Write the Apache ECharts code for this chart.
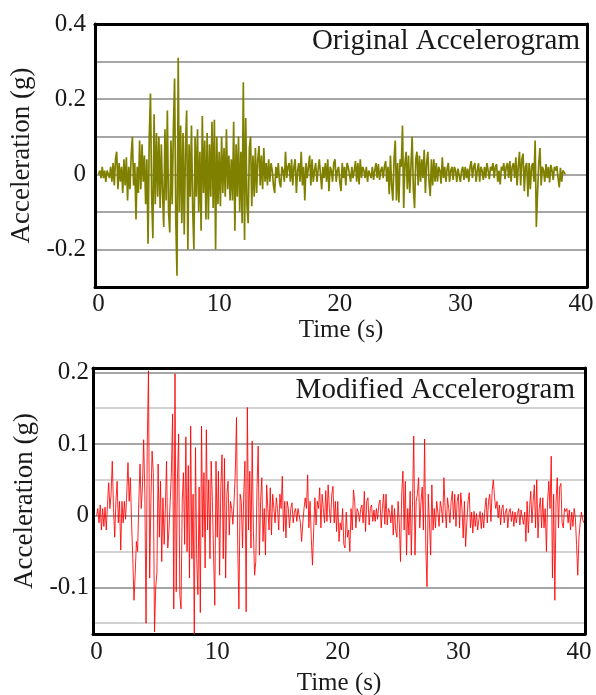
<!DOCTYPE html>
<html><head><meta charset="utf-8">
<script src="https://cdn.jsdelivr.net/npm/echarts@6/dist/echarts.min.js"></script>
<style>html,body{margin:0;padding:0;background:#fff}#c{width:596px;height:695px}</style>
</head><body><div id="c"></div>
<script>
// ---- data ----
const SAMPLE_STEP = 0.1;   // seconds between samples
const START_TIME = 0;      // seconds
const timeTicks = [0, 10, 20, 30, 40];
const originalTicks = [-0.2, 0, 0.2, 0.4];
const originalGrid = [-0.3, -0.2, -0.1, 0, 0.1, 0.2, 0.3, 0.4];
const modifiedTicks = [-0.1, 0, 0.1, 0.2];
const modifiedMinorGrid = [-0.15, -0.05, 0.05, 0.15];
const titles = ['Original Accelerogram', 'Modified Accelerogram'];
const xName = 'Time (s)';
const yName = 'Acceleration (g)';

// Original accelerogram, g (one value per sample)
const originalAccel = [
0,.01,-.01,.02,-.01,.01,-.02,.01,0,-.01,
.02,-.02,.03,-.03,.04,.06,-.04,.03,-.02,.02,
-.05,.04,-.03,.045,-.07,.02,-.04,.05,.1,-.03,
.03,-.12,.02,-.05,.09,-.04,.08,-.02,.05,-.08,
.04,-.185,.1,.215,-.06,-.17,.16,-.08,.11,-.06,
.1,-.09,.08,-.05,-.14,.12,-.07,.17,-.1,-.155,
.09,-.08,.12,.255,-.12,-.27,.31,-.1,.13,-.13,
.11,-.16,.07,.17,-.2,.08,-.06,.13,-.09,-.2,
.1,-.06,.12,-.1,.06,-.15,.155,-.05,.09,-.12,
.11,-.12,.08,-.06,.14,-.09,.145,-.2,.1,-.08,
.06,-.085,.1,-.05,.07,-.06,.12,-.04,.05,-.07,
.04,-.07,.14,-.15,.08,-.06,.1,-.1,.06,-.13,
.245,-.175,.15,-.08,-.13,.07,.1,-.085,.05,-.06,
.07,-.05,.04,.075,-.03,.05,-.04,.07,-.02,.03,
-.03,.04,-.02,.03,.01,-.03,-.05,.02,-.01,.03,
-.02,-.035,.02,.01,-.02,.06,-.01,.02,.03,-.02,
.04,-.03,.02,.04,-.05,.01,.03,-.02,.06,-.03,
.02,-.07,.03,-.01,.02,.05,-.03,.04,-.02,.01,
.03,-.02,.01,.04,.045,-.04,.02,-.01,.03,-.02,
.04,-.045,.02,.01,-.02,.03,.04,-.02,.01,.02,
-.02,-.045,.03,-.01,.02,-.03,.03,.02,.025,-.02,
.02,-.01,.01,.035,-.02,.03,-.027,.04,-.01,.02,
.01,-.01,.02,-.02,.01,.015,-.01,.02,-.015,.01,
.03,-.01,.027,-.015,.01,.02,-.01,.02,.035,-.02,
.02,-.053,.05,-.03,-.07,.04,.09,-.07,.03,-.075,
.04,.02,.13,-.09,.03,.06,-.04,.05,-.05,.02,
.1,-.04,-.09,.04,.06,-.03,.05,-.02,.04,-.01,
.065,-.05,.03,.06,-.02,-.058,.04,-.03,.04,-.02,
.03,-.02,.02,.01,-.025,.045,-.01,.02,-.02,.015,
.03,-.02,.01,.02,-.015,.02,.01,-.02,.015,.02,
-.02,.01,.02,-.015,.02,-.01,.015,-.02,.02,.035,
-.01,.02,.03,-.02,.01,.03,-.02,.02,.01,-.015,
.02,-.01,.03,.01,-.013,.02,.01,.03,-.01,.02,
.027,-.02,.01,-.027,.02,.01,.03,-.013,.02,.03,
-.01,.035,-.02,.02,.03,-.01,.045,-.03,.02,.06,
-.03,.04,.055,-.045,.02,.03,-.06,.03,-.04,.02,
.03,-.02,.09,-.14,-.05,.03,.07,-.03,.02,.01,
-.02,.027,-.01,.02,-.022,.025,.01,-.015,.02,.01,
.022,-.01,-.035,.017,-.02,.01,.005,0
];

// Modified accelerogram, g (one value per sample)
const modifiedAccel = [
0,.01,-.01,.015,-.02,.01,-.015,.012,-.02,.015,
.046,.01,.03,.076,.01,-.03,.02,.048,-.01,.02,
-.048,.02,-.01,.02,-.005,.03,.074,.02,.053,-.01,
-.06,-.118,-.08,-.036,-.05,.02,.072,.01,.04,.106,
.03,-.15,.1,.202,-.087,.02,.09,.06,-.162,-.1,
-.08,.072,-.03,.048,-.064,.025,-.04,.01,.076,-.045,
-.02,.02,.06,.142,-.13,.198,-.106,.05,.114,-.11,
-.13,.02,.06,-.04,.11,-.05,.07,-.087,.125,-.06,
.03,-.165,.095,-.06,-.11,.04,-.135,.125,-.03,.06,
-.073,.12,-.02,.05,-.06,.076,.02,-.055,-.125,.076,
-.03,.062,-.083,.04,.085,-.06,.08,-.087,.03,.048,
-.027,.02,.01,-.012,.02,.06,.137,-.04,-.13,.03,
.02,-.045,.03,.076,-.134,.151,-.02,.062,-.045,.104,
-.02,-.083,-.064,.039,.097,-.055,.02,.053,-.036,.01,
-.055,.043,.01,-.02,.039,-.027,.03,.01,-.01,.025,
.01,-.02,.03,.01,.055,-.022,.02,-.031,.02,.01,
-.017,.01,.018,-.01,.005,.01,-.008,.01,.012,-.01,
-.036,-.01,.01,.025,.01,.057,-.017,.02,-.03,-.069,
-.02,.025,-.013,.02,.01,.039,-.017,.03,.01,-.01,
.035,-.008,.043,.01,-.01,.03,.041,-.01,.02,-.022,
.02,-.036,-.01,-.02,.01,-.04,-.045,.005,-.03,-.02,
-.05,.01,-.02,.036,.02,-.017,.01,.005,-.008,.01,
.015,-.01,.034,-.022,.02,.025,-.013,.01,.015,-.008,
.008,-.008,.01,-.005,.015,.022,-.017,.01,.03,-.012,
.03,-.013,.01,.005,-.01,.015,-.027,.01,-.02,-.03,
.02,-.01,-.064,.03,.062,-.02,.048,-.055,.01,-.027,
.034,-.055,.02,.111,-.055,.02,.03,.053,-.017,.02,
.04,-.02,.107,-.045,-.099,.03,-.01,-.055,.043,-.02,
.01,-.017,.02,.005,-.015,.02,.01,-.01,.053,.01,
-.017,.025,.01,-.01,.02,.034,-.005,.03,-.015,.02,
.03,-.017,.032,.01,-.031,.02,-.043,-.01,.02,.032,
-.017,.005,-.024,.006,-.015,.003,-.02,-.005,.006,-.018,
.004,-.017,.01,.025,-.01,.02,.03,-.008,.035,.05,
.025,.01,.02,-.003,.015,-.013,.01,.015,-.01,.005,
.01,-.017,.005,.01,-.008,.006,-.015,.005,-.01,.003,
.01,-.013,.008,.01,-.012,.005,-.036,.02,-.024,.01,
.034,-.01,.02,.043,-.017,.05,-.031,.01,.025,-.017,
.025,-.017,.01,-.05,.02,.048,.01,.083,-.087,.03,
-.118,.02,.053,-.017,.04,.045,-.01,-.017,.01,.006,
.01,-.01,.008,-.02,.005,-.015,.01,-.003,-.04,-.083,
-.03,-.01,.005,-.005,-.01
];

// ---- chart ----
const FONT = "'Liberation Serif', 'DejaVu Serif', serif";
const INK = '#1a1a1a';
const frameLine = { show: true, onZero: false, lineStyle: { color: '#000', width: 3 } };

function toPairs(arr) {
  return arr.map((v, i) => [+(START_TIME + i * SAMPLE_STEP).toFixed(2), v]);
}

function xMain(grid, margin, gap) {
  return {
    gridIndex: grid, type: 'value', min: -0.3, max: 40.5, position: 'bottom',
    axisLine: frameLine, axisTick: { show: false }, splitLine: { show: false },
    axisLabel: { customValues: timeTicks, fontFamily: FONT, fontSize: 25, color: INK, margin: margin },
    name: xName, nameLocation: 'middle', nameGap: gap,
    nameTextStyle: { fontFamily: FONT, fontSize: 25, color: INK }
  };
}
function xTop(grid) {
  return {
    gridIndex: grid, type: 'value', min: -0.3, max: 40.5, position: 'top',
    axisLine: frameLine, axisTick: { show: false }, axisLabel: { show: false }, splitLine: { show: false }
  };
}

const chart = echarts.init(document.getElementById('c'), null, { renderer: 'canvas' });
chart.setOption({
  animation: false,
  backgroundColor: '#fff',
  title: [
    { text: titles[0], right: 16, top: 27, padding: 0,
      textStyle: { fontFamily: FONT, fontSize: 29, fontWeight: 'normal', color: INK } },
    { text: titles[1], right: 21, top: 376, padding: 0,
      textStyle: { fontFamily: FONT, fontSize: 29, fontWeight: 'normal', color: INK } }
  ],
  grid: [
    { left: 95, top: 24, width: 492, height: 263, containLabel: false, outerBoundsMode: 'none' },
    { left: 93, top: 368, width: 492, height: 266, containLabel: false, outerBoundsMode: 'none' }
  ],
  xAxis: [xMain(0, 5, 29), xTop(0), xMain(1, 6, 37), xTop(1)],
  yAxis: [
    { gridIndex: 0, type: 'value', min: -0.3, max: 0.4, position: 'left',
      axisLine: frameLine, axisTick: { show: false, customValues: originalGrid },
      axisLabel: { customValues: originalTicks, fontFamily: FONT, fontSize: 25, color: INK, margin: 9 },
      splitLine: { show: true, lineStyle: { color: '#a6a6a6', width: 2 } },
      name: yName, nameLocation: 'middle', nameGap: 49,
      nameTextStyle: { fontFamily: FONT, fontSize: 27, color: INK } },
    { gridIndex: 0, type: 'value', min: -0.3, max: 0.4, position: 'right',
      axisLine: frameLine, axisTick: { show: false }, axisLabel: { show: false }, splitLine: { show: false } },
    { gridIndex: 1, type: 'value', min: -0.165, max: 0.206, position: 'left',
      axisLine: frameLine, axisTick: { show: false, customValues: modifiedTicks },
      axisLabel: { customValues: modifiedTicks, fontFamily: FONT, fontSize: 25, color: INK, margin: 4 },
      splitLine: { show: true, lineStyle: { color: '#a6a6a6', width: 2 } },
      name: yName, nameLocation: 'middle', nameGap: 53,
      nameTextStyle: { fontFamily: FONT, fontSize: 27, color: INK } },
    { gridIndex: 1, type: 'value', min: -0.165, max: 0.206, position: 'right',
      axisLine: frameLine, axisTick: { show: false, customValues: modifiedMinorGrid },
      axisLabel: { show: false },
      splitLine: { show: true, lineStyle: { color: '#d2d2d2', width: 2 } } }
  ],
  series: [
    { type: 'line', xAxisIndex: 0, yAxisIndex: 0, data: toPairs(originalAccel),
      symbol: 'none', lineStyle: { color: '#808000', width: 1.7 } },
    { type: 'line', xAxisIndex: 2, yAxisIndex: 2, data: toPairs(modifiedAccel),
      symbol: 'none', lineStyle: { color: '#ff0000', width: 1, opacity: 0.85 } }
  ]
});
</script>
</body></html>
